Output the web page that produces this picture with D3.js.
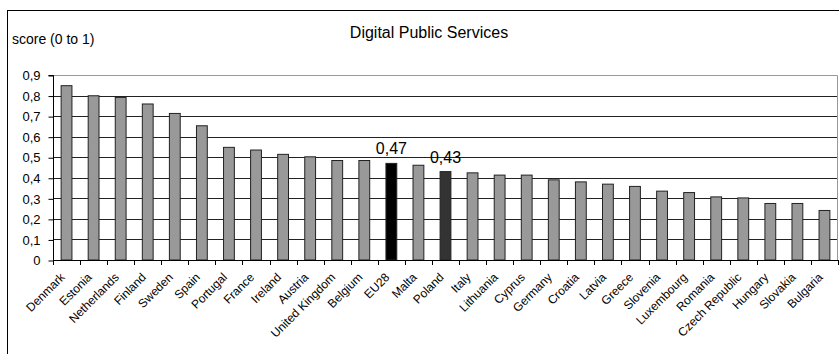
<!DOCTYPE html>
<html>
<head>
<meta charset="utf-8">
<script src="https://cdn.jsdelivr.net/npm/d3@7"></script>
<style>
  html, body { margin: 0; padding: 0; background: #fff; }
  svg { display: block; font-family: "Liberation Sans", Arial, sans-serif; }
</style>
</head>
<body>
<svg id="chart" width="839" height="354"></svg>
<script>
// Digital Public Services score by country
const countries = ["Denmark","Estonia","Netherlands","Finland","Sweden","Spain","Portugal","France","Ireland","Austria","United Kingdom","Belgium","EU28","Malta","Poland","Italy","Lithuania","Cyprus","Germany","Croatia","Latvia","Greece","Slovenia","Luxembourg","Romania","Czech Republic","Hungary","Slovakia","Bulgaria"];
const scores = [0.848,0.799,0.791,0.759,0.713,0.653,0.548,0.535,0.514,0.502,0.484,0.484,0.47,0.461,0.43,0.424,0.413,0.413,0.39,0.38,0.369,0.358,0.335,0.328,0.307,0.302,0.275,0.275,0.241];
const yTicks = [0,0.1,0.2,0.3,0.4,0.5,0.6,0.7,0.8,0.9];
const highlighted = { "EU28": "#000000", "Poland": "#333333" };
const labelled = ["EU28", "Poland"];

const FONT = "Liberation Sans, Arial, sans-serif";
const svg = d3.select("#chart");
const margin = { left: 53, right: 1, top: 75, bottom: 94 };
const W = 839, H = 354;

// Outer frame (runs past the right and bottom edges)
svg.append("rect")
  .attr("x", 7.5).attr("y", 10.5)
  .attr("width", 900).attr("height", 400)
  .attr("fill", "none").attr("stroke", "#000").attr("stroke-width", 1);

const x = d3.scaleBand()
  .domain(countries)
  .range([margin.left, W - margin.right])
  .paddingInner(0.6).paddingOuter(0.3);

const y = d3.scaleLinear()
  .domain([0, 0.9])
  .range([H - margin.bottom, margin.top]);

const fmt = v => d3.format(".1f")(v).replace(".", ",");

// Gridlines
svg.append("g")
  .selectAll("line")
  .data(yTicks.filter(t => t > 0))
  .join("line")
  .attr("x1", margin.left).attr("x2", W - margin.right - 0.5)
  .attr("y1", d => Math.round(y(d)) + 0.5).attr("y2", d => Math.round(y(d)) + 0.5)
  .attr("stroke", d => d === 0.9 ? "#999" : "#222")
  .attr("stroke-width", 1);

// Right border of plot area
svg.append("line")
  .attr("x1", W - margin.right - 0.5).attr("x2", W - margin.right - 0.5)
  .attr("y1", Math.round(y(0.9)) + 0.5).attr("y2", Math.round(y(0)) + 0.5)
  .attr("stroke", "#999");

// Bars
svg.append("g")
  .selectAll("rect")
  .data(countries)
  .join("rect")
  .attr("x", d => x(d))
  .attr("y", (d, i) => y(scores[i]))
  .attr("width", x.bandwidth())
  .attr("height", (d, i) => y(0) - y(scores[i]))
  .attr("fill", d => highlighted[d] || "#999999")
  .attr("stroke", "#222")
  .attr("stroke-width", 1);

// Value labels
svg.append("g")
  .selectAll("text")
  .data(labelled)
  .join("text")
  .attr("x", d => x(d) + x.bandwidth() / 2)
  .attr("y", d => y(scores[countries.indexOf(d)]) - 9)
  .attr("text-anchor", "middle")
  .attr("font-size", 16)
  .attr("fill", "#000")
  .text(d => scores[countries.indexOf(d)].toFixed(2).replace(".", ","));

// Y axis
const yAxis = d3.axisLeft(y)
  .tickValues(yTicks)
  .tickSize(5)
  .tickFormat(d => d === 0 ? "0" : fmt(d));
const gy = svg.append("g")
  .attr("transform", `translate(${margin.left + 0.5},0.5)`)
  .call(yAxis);
gy.select(".domain").attr("stroke", "#000").attr("d", `M-5,${Math.round(y(0.9))}H0V${Math.round(y(0))}`);
gy.selectAll(".tick text")
  .attr("font-size", 13).attr("fill", "#000").attr("x", -13)
  .attr("font-family", FONT);
gy.selectAll(".tick line").attr("stroke", "#000");

// X axis: ticks on category boundaries
const bounds = d3.range(countries.length + 1).map(i => margin.left + i * (W - margin.right - margin.left) / countries.length);
const gx = svg.append("g");
gx.append("line")
  .attr("x1", margin.left).attr("x2", W - margin.right)
  .attr("y1", Math.round(y(0)) + 0.5).attr("y2", Math.round(y(0)) + 0.5)
  .attr("stroke", "#000");
gx.selectAll("line.tk")
  .data(bounds)
  .join("line")
  .attr("class", "tk")
  .attr("x1", d => Math.round(d) + 0.5).attr("x2", d => Math.round(d) + 0.5)
  .attr("y1", Math.round(y(0))).attr("y2", Math.round(y(0)) + 5)
  .attr("stroke", "#000");

gx.selectAll("text")
  .data(countries)
  .join("text")
  .attr("transform", d => `translate(${x(d) + x.bandwidth() / 2 - 4},${y(0) + 15}) rotate(-45)`)
  .attr("text-anchor", "end")
  .attr("dy", "0.35em")
  .attr("font-size", 12)
  .attr("fill", "#000")
  .text(d => d);

// Title and axis caption
svg.append("text")
  .attr("x", 429).attr("y", 38)
  .attr("text-anchor", "middle")
  .attr("font-size", 16)
  .text("Digital Public Services");

svg.append("text")
  .attr("x", 12).attr("y", 44)
  .attr("font-size", 14)
  .text("score (0 to 1)");
</script>
</body>
</html>
